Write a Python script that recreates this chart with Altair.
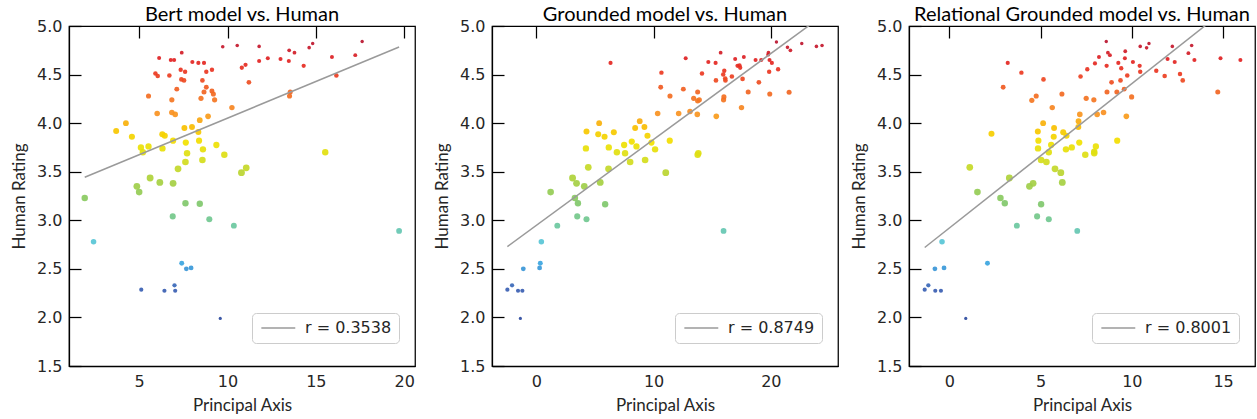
import altair as alt
import pandas as pd

# ---------------- data ----------------
bert_x = [9.73, 10.55, 11.79, 14.82, 17.62,
          6.13, 6.79, 6.98, 7.41, 8.01, 8.35, 8.67,
          5.92, 6.05, 6.71, 7.35, 7.60, 7.39, 7.54, 8.58, 8.80, 9.12,
          8.80, 8.67, 9.12, 9.20, 9.27, 8.50, 7.13, 6.85, 5.53, 6.02, 6.85, 7.04, 8.90, 8.43, 10.25,
          10.81, 11.02, 11.21, 11.79, 12.28, 13.00, 13.49, 13.79, 13.47, 14.31, 14.62,
          15.91, 17.23, 16.16, 13.55, 13.51,
          3.70, 4.25, 4.59, 7.56, 7.99, 8.35,
          5.10, 5.21, 5.53, 6.31, 6.45, 6.32, 6.92, 7.64, 7.71, 8.39, 8.61, 9.37, 9.82, 8.58, 7.62,
          7.20, 10.79, 11.06, 15.53,
          5.62, 6.17, 6.92, 4.87, 5.00, 1.92, 7.62, 8.43,
          6.90, 8.97, 10.36, 19.71, 2.42, 7.41, 7.67, 7.94, 5.12, 6.43, 7.00, 7.04, 9.59]
bert_y = [4.787, 4.80, 4.79, 4.82, 4.84,
          4.67, 4.65, 4.65, 4.725, 4.63, 4.62, 4.62,
          4.51, 4.485, 4.49, 4.55, 4.53, 4.45, 4.44, 4.44, 4.53, 4.55,
          4.37, 4.32, 4.33, 4.30, 4.24, 4.255, 4.35, 4.24, 4.28, 4.10, 4.11, 4.09, 4.07, 4.03, 4.16,
          4.57, 4.60, 4.42, 4.64, 4.667, 4.66, 4.75, 4.725, 4.64, 4.59, 4.777,
          4.68, 4.70, 4.49, 4.32, 4.28,
          3.92, 4.00, 3.86, 3.95, 3.96, 3.91,
          3.75, 3.70, 3.76, 3.885, 3.87, 3.74, 3.82, 3.80, 3.69, 3.82, 3.73, 3.775, 3.675, 3.62, 3.60,
          3.53, 3.49, 3.54, 3.70,
          3.435, 3.39, 3.38, 3.35, 3.29, 3.23, 3.175, 3.17,
          3.04, 3.01, 2.945, 2.89, 2.78, 2.557, 2.50, 2.51, 2.286, 2.275, 2.33, 2.275, 1.99]

grounded_x = [6.33, 10.67, 12.74, 15.72, 14.67, 15.29, 14.13, 16.03, 15.94, 16.11, 16.13, 15.32, 16.68,
              16.96, 17.16, 17.33, 17.39, 17.70, 17.59, 18.70, 19.18, 19.77, 19.80, 19.89, 20.09,
              20.48, 21.42, 21.67, 22.64, 23.89, 24.37, 19.86, 20.62, 18.98, 18.07, 19.91, 21.56,
              17.50, 15.97, 16.00, 15.35,
              10.61, 11.40, 12.54, 13.42, 13.76, 13.76, 13.90, 10.35, 12.14, 13.11, 13.73,
              8.82, 5.36, 8.43, 9.22, 9.48,
              4.28, 5.28, 5.82, 6.61, 4.23, 6.18, 6.87, 7.49, 7.57, 8.14, 8.54, 9.82, 10.13, 11.38,
              13.82, 13.76, 9.28, 8.00, 6.16, 4.43, 11.04,
              3.09, 3.43, 5.45, 4.09, 1.22, 3.29, 3.55, 5.87,
              3.49, 4.28, 1.79, 15.97, 0.43, 0.34, 0.28, -1.11, -2.47, -2.07, -1.56, -1.19, -1.36]
grounded_y = [4.62, 4.52, 4.667, 4.725, 4.63, 4.62, 4.51, 4.54, 4.50, 4.46, 4.44, 4.44, 4.48,
              4.66, 4.59, 4.595, 4.57, 4.68, 4.455, 4.65, 4.65, 4.705, 4.725, 4.65, 4.62,
              4.835, 4.78, 4.75, 4.82, 4.79, 4.80, 4.53, 4.555, 4.42, 4.32, 4.30, 4.317,
              4.16, 4.24, 4.27, 4.07,
              4.37, 4.28, 4.35, 4.255, 4.23, 4.32, 4.24, 4.10, 4.10, 4.12, 4.09,
              4.02, 4.00, 3.95, 3.96, 3.87,
              3.915, 3.885, 3.86, 3.905, 3.74, 3.75, 3.70, 3.775, 3.69, 3.81, 3.76, 3.80, 3.73, 3.82,
              3.69, 3.675, 3.62, 3.60, 3.53, 3.545, 3.49,
              3.435, 3.38, 3.39, 3.35, 3.29, 3.23, 3.175, 3.165,
              3.04, 3.01, 2.945, 2.89, 2.78, 2.557, 2.51, 2.50, 2.286, 2.33, 2.275, 2.275, 1.99]

relational_x = [8.60, 10.46, 10.94, 10.81, 12.22, 13.28,
                3.20, 3.95, 5.16, 2.95, 4.76, 4.52, 6.17, 5.64,
                7.19, 7.56, 7.98, 8.20, 8.62, 8.69, 8.80, 9.26, 9.42, 9.64, 9.62, 10.06, 10.43, 10.46,
                9.75, 9.38, 8.89, 9.58, 9.18, 8.64, 9.99, 7.50, 7.92, 7.15, 8.10, 8.45, 9.70,
                11.34, 11.80, 11.96, 12.35, 12.64, 12.79, 13.10, 13.43, 14.86, 15.95, 14.71,
                2.31, 5.14, 4.85, 4.88, 4.86, 5.74, 5.72, 5.58, 5.45, 6.24, 6.42, 6.39, 6.71,
                7.08, 7.07, 7.12, 7.45, 8.03, 7.94, 7.94, 9.20,
                5.03, 5.32, 5.79, 6.11, 6.19, 4.59, 4.39, 3.29, 1.12, 1.54, 2.80, 3.04, 5.03,
                4.81, 5.45, 3.70, 7.01, -0.40, 2.09, -0.79, -0.29, -1.35, -1.15, -0.77, -0.46, 0.90]
relational_y = [4.84, 4.79, 4.82, 4.775, 4.79, 4.80,
                4.62, 4.52, 4.45, 4.37, 4.28, 4.235, 4.30, 4.16,
                4.48, 4.555, 4.615, 4.68, 4.59, 4.725, 4.70, 4.62, 4.565, 4.74, 4.667, 4.63, 4.59, 4.53,
                4.49, 4.44, 4.42, 4.35, 4.32, 4.32, 4.27, 4.255, 4.24, 4.09, 4.09, 4.11, 4.07,
                4.54, 4.485, 4.66, 4.63, 4.505, 4.44, 4.72, 4.65, 4.667, 4.65, 4.32,
                3.89, 4.00, 3.915, 3.82, 3.74, 3.95, 3.86, 3.775, 3.70, 3.905, 3.87, 3.73, 3.75,
                4.02, 3.96, 3.80, 3.675, 3.76, 3.705, 3.69, 3.82,
                3.62, 3.60, 3.53, 3.49, 3.39, 3.38, 3.35, 3.435, 3.545, 3.29, 3.23, 3.175, 3.165,
                3.04, 3.01, 2.945, 2.89, 2.78, 2.557, 2.50, 2.51, 2.286, 2.33, 2.275, 2.275, 1.99]

titles = ["Bert model vs. Human", "Grounded model vs. Human",
          "Relational Grounded model vs. Human"]
r_labels = ["r = 0.3538", "r = 0.8749", "r = 0.8001"]
x_domains = [[1.03, 20.61], [-3.78, 25.73], [-2.21, 16.75]]
x_ticks = [[5, 10, 15, 20], [0, 10, 20], [0, 5, 10, 15]]
y_ticks = [1.5, 2.0, 2.5, 3.0, 3.5, 4.0, 4.5, 5.0]

rating_stops = [1.99, 2.3, 2.55, 2.78, 2.95, 3.17, 3.4, 3.6, 3.8, 3.95, 4.1, 4.3, 4.5, 4.65, 4.85]
rating_colors = ["#2b4a9e", "#3a60b4", "#3aa4e0", "#58c6d6", "#6cc89e", "#80c86c",
                 "#a8d040", "#d2dc1e", "#f2e200", "#f8c000", "#f89222", "#f26a22",
                 "#ec3c22", "#e22222", "#b81430"]

PW, PH = 346, 340
TEXT = "#262626"


def panel(xs, ys, title, r_label, dom, ticks):
    df = pd.DataFrame({"x": xs, "y": ys})
    base = alt.Chart(df)
    x_enc = alt.X("x:Q",
                  scale=alt.Scale(domain=dom, nice=False, zero=False),
                  axis=alt.Axis(values=ticks, format="d", title="Principal Axis"))
    y_enc = alt.Y("y:Q",
                  scale=alt.Scale(domain=[1.5, 5.0], nice=False, zero=False),
                  axis=alt.Axis(values=y_ticks, format=".1f", title="Human Rating"))
    pts = base.transform_calculate(
        dev="abs(datum.y - 3.45)"
    ).mark_circle(opacity=0.92).encode(
        x=x_enc, y=y_enc,
        color=alt.Color("y:Q",
                        scale=alt.Scale(domain=rating_stops, range=rating_colors,
                                        interpolate="rgb"),
                        legend=None),
        size=alt.Size("dev:Q",
                      scale=alt.Scale(domain=[0, 1.45], range=[48, 10], clamp=True),
                      legend=None),
    )
    line = base.transform_regression("x", "y").transform_calculate(
        label=f"'{r_label}'"
    ).mark_line(clip=True, strokeWidth=1.5).encode(
        x="x:Q", y="y:Q",
        stroke=alt.Stroke("label:N",
                          scale=alt.Scale(range=["#9a9a9a"]),
                          legend=alt.Legend(
                              title=None, orient="none", legendX=183, legendY=287,
                              strokeColor="#cccccc", cornerRadius=4, fillColor="white",
                              padding=7, symbolType="M-1,0H5", symbolSize=128,
                              symbolStrokeWidth=1.5, labelOffset=30,
                              labelFont="DejaVu Sans", labelFontSize=16,
                              labelColor=TEXT)),
    )
    return alt.layer(pts, line).properties(
        width=PW, height=PH,
        title=alt.TitleParams(title, font="Lato", fontSize=20, fontWeight="normal",
                              color="black", offset=-7, frame="group"),
    )


p1 = panel(bert_x, bert_y, titles[0], r_labels[0], x_domains[0], x_ticks[0])
p2 = panel(grounded_x, grounded_y, titles[1], r_labels[1], x_domains[1], x_ticks[1])
p3 = panel(relational_x, relational_y, titles[2], r_labels[2], x_domains[2], x_ticks[2])

left_pair = alt.hconcat(p1, p2, spacing=16).resolve_scale(stroke="independent", x="independent")
chart = alt.hconcat(left_pair, p3, spacing=10).resolve_scale(
    stroke="independent", x="independent"
).properties(
    padding={"left": 9, "top": 4, "right": 0, "bottom": 0}
).configure_view(
    stroke="black", strokeWidth=1.25
).configure_axis(
    labelFont="DejaVu Sans", labelFontSize=16, labelColor=TEXT,
    titleFont="Lato", titleFontSize=17, titleFontWeight="normal", titleColor=TEXT,
    domainColor="black", domainWidth=1.25,
    ticks=False, labelPadding=7, titlePadding=8,
    grid=True, gridColor="black", gridWidth=1.25, gridOpacity=1, gridDash=[12, 4000],
).configure_legend(
    labelFont="DejaVu Sans"
)

chart.save("out.html", embed_options={"renderer": "svg", "actions": False})
